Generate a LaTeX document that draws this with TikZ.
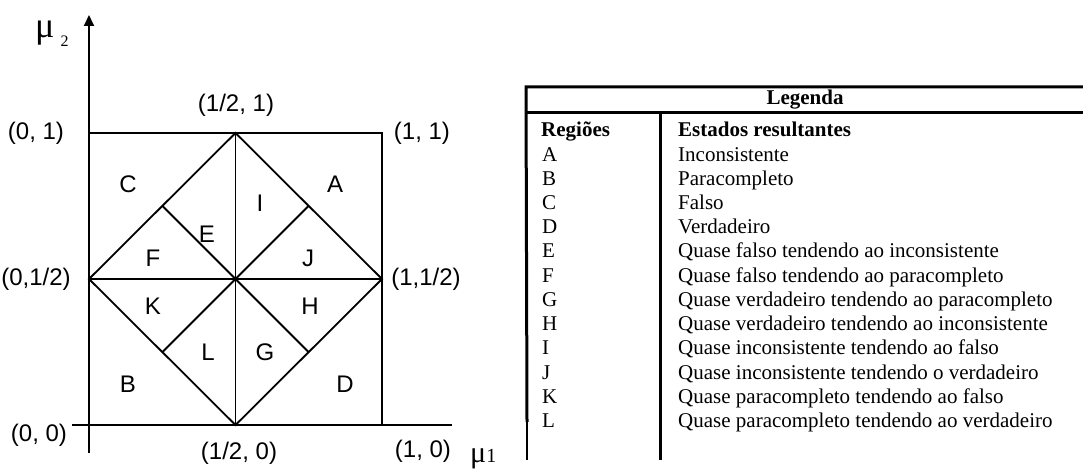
\documentclass[tikz,border=0pt]{standalone}
\usepackage{fontspec}
\setmainfont{Liberation Serif}
\newfontfamily\arialfont{Liberation Sans}
\usetikzlibrary{arrows.meta, positioning}

\begin{document}
\begin{tikzpicture}[
        x=1pt, y=-1pt,
        coord/.style={font=\arialfont\fontsize{24}{28}\selectfont, inner sep=0pt},
        region/.style={font=\arialfont\fontsize{24}{28}\selectfont, inner sep=0pt},
        legend/.style={font=\fontsize{21}{24}\selectfont, inner sep=0pt, anchor=base west},
        edge/.style={line width=1.8pt},
        rule/.style={line width=3pt},
        thinrule/.style={line width=1.4pt}
    ]
        \useasboundingbox (0,0) rectangle (1083,470);

        % square and diamond
        \coordinate (p00) at (89,425);
        \coordinate (p11) at (382,133);
        \coordinate (pm0) at (235.5,425);
        \coordinate (pm1) at (235.5,133);
        \coordinate (p0m) at (89,279);
        \coordinate (p1m) at (382,279);
        \coordinate (ul) at (162.25,205.75);
        \coordinate (ur) at (308.75,205.75);
        \coordinate (ll) at (162.25,352.25);
        \coordinate (lr) at (308.75,352.25);

        % axes
        \coordinate (ytop) at (89,15);
        \coordinate (ybot) at (89,453);
        \coordinate (xleft) at (72,425);
        \coordinate (xright) at (452,425);

        \draw[edge, -{Triangle[length=11pt, width=10pt]}] (ybot) -- (ytop);
        \draw[edge] (xleft) -- (xright);
        \draw[edge] (p00) rectangle (p11);
        \draw[edge] (pm1) -- (p1m) -- (pm0) -- (p0m) -- cycle;
        \draw[edge] (pm1) -- (pm0);
        \draw[edge] (p0m) -- (p1m);
        \draw[edge] (ul) -- (lr);
        \draw[edge] (ur) -- (ll);

        \node[anchor=base west, inner sep=0pt] (mu2) at (35,38) {\fontsize{36}{36}\selectfont μ\hspace{6pt}\raisebox{-9pt}{\fontsize{16}{16}\selectfont 2}};
        \node[anchor=base west, inner sep=0pt] (mu1) at (470,462) {\fontsize{30}{30}\selectfont μ\fontsize{20}{20}\selectfont 1};

        % corner labels
        \node[coord] (c01) at (36,133) {(0, 1)};
        \node[coord] (cm1) at (236,105) {(1/2, 1)};
        \node[coord] (c11) at (422,133) {(1, 1)};
        \node[coord] (c0m) at (36,279) {(0,1/2)};
        \node[coord] (c1m) at (426,279) {(1,1/2)};
        \node[coord] (c00) at (39,435) {(0, 0)};
        \node[coord] (cm0) at (239,453) {(1/2, 0)};
        \node[coord] (c10) at (423,451) {(1, 0)};

        % regions
        \foreach \lbl/\px/\py in {A/335/184, B/128/384, C/128/184, D/345/384,
                E/207/234, F/153/258, G/265/352, H/310/306,
                I/260/203, J/308/258, K/153/306, L/208/352}
            \node[region] (r\lbl) at (\px,\py) {\lbl};

        % legend table
        \coordinate (tl) at (526,87);
        \coordinate (tr) at (1083,87);
        \coordinate (hl) at (526,113);
        \coordinate (hr) at (1083,113);
        \coordinate (lb) at (527,422);
        \coordinate (lbb) at (527,460);
        \coordinate (st) at (660,113);
        \coordinate (sb) at (660,460);

        \draw[rule] (tr) -- (tl) -- (lb);
        \draw[thinrule] (lb) -- (lbb);
        \draw[rule] (hl) -- (hr);
        \draw[rule] (st) -- (sb);

        \node[font=\bfseries\fontsize{21}{24}\selectfont, inner sep=0pt] (title) at (805,100) {Legenda};
        \node[legend, font=\bfseries\fontsize{21}{24}\selectfont] (headreg) at (541,137) {Regiões};
        \node[legend, font=\bfseries\fontsize{21}{24}\selectfont] (headst) at (678,137) {Estados resultantes};

        \foreach \reg/\state [count=\i] in {A/Inconsistente, B/Paracompleto, C/Falso, D/Verdadeiro,
                E/Quase falso tendendo ao inconsistente,
                F/Quase falso tendendo ao paracompleto,
                G/Quase verdadeiro tendendo ao paracompleto,
                H/Quase verdadeiro tendendo ao inconsistente,
                I/Quase inconsistente tendendo ao falso,
                J/Quase inconsistente tendendo o verdadeiro,
                K/Quase paracompleto tendendo ao falso,
                L/Quase paracompleto tendendo ao verdadeiro} {
            \node[legend] (reg\reg) at (542,{137+\i*24.2}) {\reg};
            \node[legend] (st\reg) at (678,{137+\i*24.2}) {\state};
        }
    \end{tikzpicture}
\end{document}
